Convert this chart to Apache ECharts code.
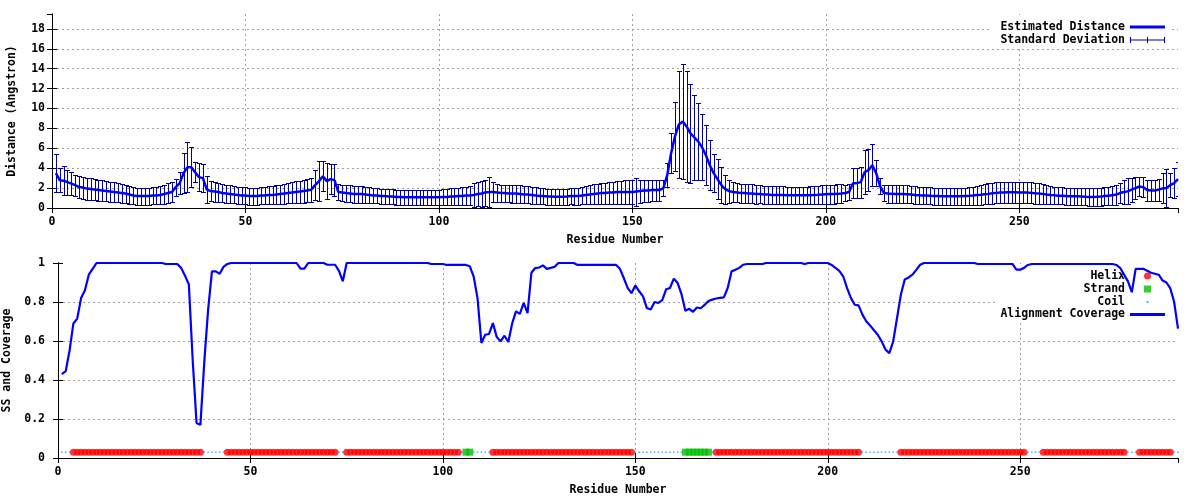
<!DOCTYPE html>
<html><head><meta charset="utf-8">
<script src="https://cdn.jsdelivr.net/npm/echarts@6/dist/echarts.min.js"></script>
<style>html,body{margin:0;padding:0;background:#fff}#c{width:1200px;height:500px}</style>
</head><body><div id="c"></div>
<script>
// ---------- DATA ----------
// Estimated distance (Angstrom) per residue 1..291
const dist = [
3.5,2.8,2.75,2.6,2.45,2.3,2.1,2.05,1.95,1.9,
1.85,1.8,1.75,1.7,1.65,1.6,1.55,1.5,1.45,1.35,
1.25,1.2,1.2,1.2,1.2,1.25,1.25,1.3,1.4,1.5,
1.6,2.1,2.5,3.5,4.1,4.1,3.6,3.1,3.0,1.85,
1.7,1.65,1.6,1.5,1.45,1.4,1.35,1.3,1.25,1.25,
1.2,1.2,1.2,1.25,1.25,1.3,1.3,1.35,1.4,1.45,
1.5,1.55,1.6,1.65,1.7,1.75,1.85,2.3,2.7,3.2,
2.7,2.9,2.8,1.6,1.55,1.5,1.45,1.4,1.4,1.4,
1.35,1.3,1.25,1.25,1.2,1.2,1.15,1.15,1.1,1.1,
1.07,1.07,1.07,1.07,1.07,1.07,1.07,1.07,1.07,1.07,
1.1,1.1,1.15,1.15,1.2,1.2,1.25,1.25,1.3,1.4,
1.45,1.55,1.6,1.6,1.55,1.5,1.5,1.45,1.45,1.45,
1.4,1.35,1.35,1.3,1.25,1.2,1.2,1.15,1.15,1.12,
1.12,1.12,1.15,1.2,1.2,1.2,1.25,1.3,1.35,1.4,
1.45,1.5,1.5,1.55,1.55,1.6,1.6,1.6,1.6,1.6,
1.65,1.7,1.75,1.75,1.8,1.8,1.8,2.0,3.3,5.5,
7.2,8.4,8.7,8.2,7.5,7.1,6.7,6.1,5.3,4.3,
3.5,2.9,2.3,1.9,1.7,1.6,1.55,1.5,1.5,1.45,
1.45,1.4,1.4,1.35,1.35,1.3,1.3,1.3,1.3,1.28,
1.28,1.27,1.27,1.27,1.27,1.28,1.3,1.32,1.35,1.38,
1.4,1.4,1.42,1.45,1.5,1.6,2.5,2.5,2.6,3.6,
3.8,4.3,3.5,2.2,1.5,1.45,1.42,1.4,1.4,1.4,
1.38,1.35,1.3,1.28,1.25,1.25,1.22,1.2,1.2,1.18,
1.17,1.17,1.17,1.17,1.17,1.2,1.22,1.25,1.3,1.33,
1.38,1.42,1.48,1.52,1.55,1.57,1.58,1.58,1.58,1.57,
1.55,1.55,1.52,1.48,1.45,1.42,1.35,1.3,1.27,1.24,
1.22,1.2,1.18,1.17,1.17,1.15,1.12,1.1,1.1,1.12,
1.15,1.2,1.24,1.27,1.35,1.5,1.6,1.67,1.84,2.0,
2.17,2.1,1.8,1.75,1.75,1.85,1.97,2.0,2.3,2.5,2.9
];
// Standard deviation per residue
const stdev = [
1.9,1.2,1.45,1.25,1.15,1.05,1.1,1.1,1.1,1.1,
1.05,1.05,1.05,1.0,1.0,1.0,0.95,0.95,0.9,0.9,
0.85,0.85,0.85,0.85,0.85,0.85,0.85,0.9,0.95,1.0,
1.0,0.85,1.1,2.0,2.5,2.0,1.0,1.4,1.4,1.35,
1.0,1.0,0.95,0.9,0.9,0.9,0.85,0.85,0.85,0.85,
0.85,0.85,0.85,0.85,0.85,0.9,0.9,0.95,0.95,1.0,
1.0,1.05,1.1,1.1,1.15,1.15,1.2,1.5,2.0,1.5,
1.8,1.5,1.6,0.8,0.8,0.85,0.85,0.85,0.85,0.85,
0.8,0.8,0.75,0.75,0.75,0.75,0.75,0.75,0.75,0.75,
0.75,0.75,0.75,0.75,0.75,0.75,0.75,0.75,0.75,0.75,
0.8,0.8,0.85,0.85,0.85,0.9,0.9,0.95,1.2,1.2,
1.3,1.3,1.5,1.0,0.9,0.85,0.85,0.85,0.9,0.9,
0.9,0.85,0.85,0.85,0.85,0.8,0.8,0.8,0.8,0.8,
0.8,0.8,0.8,0.8,0.85,0.85,0.85,0.9,0.95,1.0,
1.0,1.05,1.05,1.1,1.1,1.15,1.15,1.2,1.2,1.2,
1.4,1.15,1.1,1.1,1.05,1.05,1.05,0.8,1.2,2.0,
3.5,5.4,5.8,5.6,5.0,4.3,3.9,3.3,3.0,2.5,
1.9,2.0,1.8,1.45,1.15,1.0,0.95,0.95,0.95,0.95,
0.95,0.95,0.9,0.9,0.9,0.9,0.88,0.88,0.88,0.88,
0.88,0.88,0.88,0.88,0.88,0.9,0.9,0.92,0.95,0.95,
0.95,0.95,0.95,0.95,0.8,0.8,1.5,1.5,1.55,2.2,
2.1,2.1,1.3,0.8,0.8,0.9,0.9,0.9,0.9,0.9,
0.9,0.88,0.88,0.85,0.85,0.85,0.85,0.85,0.85,0.85,
0.85,0.85,0.85,0.85,0.85,0.85,0.9,0.9,0.95,1.0,
1.0,1.05,1.05,1.05,1.05,1.05,1.05,1.05,1.05,1.05,
1.05,1.05,1.05,1.05,1.05,1.0,0.95,0.9,0.88,0.85,
0.85,0.85,0.85,0.85,0.85,0.85,0.85,0.88,0.9,0.9,
0.9,0.9,0.9,0.95,1.0,1.0,1.2,1.3,1.2,1.1,
0.95,1.0,1.05,1.05,1.05,1.1,1.5,1.9,1.2,1.5,1.7
];
// Alignment coverage per residue
const coverage = [
0.43,0.445,0.55,0.69,0.715,0.82,0.86,0.94,0.97,1,
1,1,1,1,1,1,1,1,1,1,
1,1,1,1,1,1,1,0.995,0.995,0.995,
0.995,0.975,0.935,0.89,0.5,0.18,0.17,0.49,0.76,0.957,
0.957,0.945,0.98,0.995,1,1,1,1,1,1,
1,1,1,1,1,1,1,1,1,1,
1,1,0.971,0.971,1,1,1,1,1,0.991,
0.991,0.991,0.96,0.906,1,1,1,1,1,1,
1,1,1,1,1,1,1,1,1,1,
1,1,1,1,1,1,0.995,0.995,0.995,0.995,
0.99,0.99,0.99,0.99,0.99,0.99,0.983,0.93,0.82,0.59,
0.632,0.636,0.692,0.62,0.598,0.627,0.595,0.69,0.752,0.739,
0.795,0.743,0.95,0.974,0.977,0.988,0.97,0.975,0.98,1,
1,1,1,1,0.99,0.99,0.99,0.99,0.99,0.99,
0.99,0.99,0.99,0.99,0.99,0.97,0.923,0.872,0.845,0.885,
0.855,0.829,0.769,0.761,0.8,0.795,0.81,0.865,0.872,0.92,
0.897,0.84,0.755,0.765,0.75,0.772,0.768,0.785,0.805,0.812,
0.818,0.821,0.824,0.872,0.957,0.965,0.975,0.991,0.995,0.995,
0.995,0.995,0.995,1,1,1,1,1,1,1,
1,1,1,0.995,1,1,1,1,1,1,
0.99,0.975,0.96,0.932,0.872,0.821,0.786,0.783,0.735,0.701,
0.68,0.655,0.632,0.598,0.556,0.538,0.598,0.718,0.838,0.915,
0.926,0.94,0.965,0.991,1,1,1,1,1,1,
1,1,1,1,1,1,1,1,0.995,0.995,
0.995,0.995,0.995,0.995,0.995,0.995,0.995,0.995,0.966,0.966,
0.975,0.99,0.995,0.995,0.995,0.995,0.995,0.995,0.995,0.995,
0.995,0.995,0.995,0.995,0.995,0.995,0.995,0.995,0.995,0.995,
0.995,0.995,0.995,0.995,0.99,0.974,0.94,0.906,0.85,0.97,
0.97,0.97,0.96,0.95,0.945,0.94,0.91,0.9,0.87,0.8,0.663
];
// Secondary structure segments: [type, firstResidue, lastResidue]  H=helix E=strand C=coil
const ssSegments = [
['C',1,3],['H',4,37],['C',38,43],['H',44,72],['C',73,74],['H',75,104],['C',105,105],
['E',106,107],['C',108,112],['H',113,149],['C',150,162],['E',163,169],['C',170,170],
['H',171,208],['C',209,218],['H',219,251],['C',252,255],['H',256,277],['C',278,280],
['H',281,289],['C',290,291]
];
const ssLevel = 0.03;   // height at which SS marks are drawn

// ---------- BUILD ----------
const residues = dist.map((_, i) => i + 1);
const distData = residues.map((r, i) => [r, dist[i]]);
const errData = residues.map((r, i) => [r, dist[i], stdev[i]]);
const covData = residues.map((r, i) => [r, coverage[i]]);
const helixPts = [], strandPts = [], coilPts = [];
ssSegments.forEach(([t, a, b]) => {
  for (let r = a; r <= b; r++) {
    (t === 'H' ? helixPts : t === 'E' ? strandPts : coilPts).push([r, ssLevel]);
  }
});

const FONT = 'DejaVu Sans Mono';
const txt = {fontFamily: FONT, fontWeight: 'bold', fontSize: 11.5, color: '#000'};
const errColor = '#000099';
const gridDash = {color: '#a0a0a0', type: [2, 3], width: 1};

function xAx(gridIndex, name) {
  return {type: 'value', gridIndex, min: 0, max: 291, interval: 50,
    name, nameLocation: 'middle', nameGap: 26, nameTextStyle: txt,
    axisLine: {show: true, lineStyle: {color: '#000', width: 1}},
    axisTick: {show: true, inside: true, length: 5, lineStyle: {color: '#000'}},
    axisLabel: Object.assign({margin: 8, showMaxLabel: false}, txt),
    splitLine: {show: true, lineStyle: gridDash, showMinLine: false, showMaxLine: false}};
}
function xMirror(gridIndex) {
  return {type: 'value', gridIndex, position: 'top', min: 0, max: 291, interval: 50,
    axisLine: {show: true, lineStyle: {color: '#000', width: 1}},
    axisTick: {show: true, inside: true, length: 5, lineStyle: {color: '#000'}},
    axisLabel: {show: false}, splitLine: {show: false}};
}
function yAx(gridIndex, name, max, interval, margin, gap) {
  return {type: 'value', gridIndex, min: 0, max, interval,
    name, nameLocation: 'middle', nameGap: gap, nameTextStyle: txt,
    axisLine: {show: true, lineStyle: {color: '#000', width: 1}},
    axisTick: {show: true, inside: true, length: 5, lineStyle: {color: '#000'}},
    axisLabel: Object.assign({margin, showMaxLabel: max === 1}, txt),
    splitLine: {show: true, lineStyle: gridDash, showMinLine: false, showMaxLine: false}};
}
function yMirror(gridIndex, max, interval) {
  return {type: 'value', gridIndex, position: 'right', min: 0, max, interval,
    axisLine: {show: true, lineStyle: {color: '#000', width: 1}},
    axisTick: {show: true, inside: true, length: 5, lineStyle: {color: '#000'}},
    axisLabel: {show: false}, splitLine: {show: false}};
}

function renderErr(params, api) {
  const x = api.value(0), y = api.value(1), s = api.value(2);
  const top = api.coord([x, y + s]);
  const bot = api.coord([x, y - s]);
  const cx = Math.round(top[0]) + 0.5;
  const ty = Math.round(top[1]) + 0.5, by = Math.round(bot[1]) + 0.5;
  const hw = 2.5;
  const style = {stroke: errColor, lineWidth: 1, fill: null};
  return {type: 'group', children: [
    {type: 'line', shape: {x1: cx, y1: ty, x2: cx, y2: by}, style},
    {type: 'line', shape: {x1: cx - hw, y1: ty, x2: cx + hw, y2: ty}, style},
    {type: 'line', shape: {x1: cx - hw, y1: by, x2: cx + hw, y2: by}, style}
  ]};
}

// one legend per entry so every sample sits in the same column (icon right of text)
function leg(name, top, itemHeight, iconWidth, icon, extra) {
  const d = {name};
  if (icon) d.icon = icon;
  if (extra) Object.assign(d, extra);
  return {data: [d], right: 35 + (35 - iconWidth) / 2, top, orient: 'vertical', align: 'right', padding: 0,
    itemWidth: 35, itemHeight, textStyle: txt, selectedMode: false};
}

const chart = echarts.init(document.getElementById('c'), null, {renderer: 'canvas'});
chart.setOption({
  animation: false,
  backgroundColor: '#fff',
  grid: [
    {left: 52, top: 14, width: 1126, height: 194, show: false, containLabel: false, outerBoundsMode: 'none'},
    {left: 58, top: 263, width: 1120, height: 195, show: false, containLabel: false, outerBoundsMode: 'none'}
  ],
  xAxis: [xAx(0, 'Residue Number'), xMirror(0), xAx(1, 'Residue Number'), xMirror(1)],
  yAxis: [yAx(0, 'Distance (Angstron)', 19.5, 2, 7, 34), yMirror(0, 19.5, 2),
          yAx(1, 'SS and Coverage', 1, 0.2, 13, 40), yMirror(1, 1, 0.2)],
  graphic: {elements: [
    {type: 'rect', z: 1, silent: true, shape: {x: 992, y: 15, width: 180, height: 31}, style: {fill: '#fff'}},
    {type: 'rect', z: 1, silent: true, shape: {x: 996, y: 264, width: 176, height: 56}, style: {fill: '#fff'}}
  ]},
  legend: [
    leg('Estimated Distance', 21, 3, 35, 'rect'),
    leg('Standard Deviation', 34, 6, 35, 'path://M0,0H1V6H0Z M0,2.5H35V3.5H0Z M17,0H18V6H17Z M34,0H35V6H34Z', {itemStyle: {color: errColor}}),
    leg('Helix', 270, 7, 7, 'circle'),
    leg('Strand', 283, 7, 7, 'path://M0,0H7V7H0Z'),
    leg('Coil', 296, 2, 2, 'path://M0,0H2V2H0Z'),
    leg('Alignment Coverage', 308.5, 3, 35, 'rect')
  ],
  series: [
    {name: 'Standard Deviation', type: 'custom', xAxisIndex: 0, yAxisIndex: 0, z: 2,
      renderItem: renderErr, data: errData, encode: {x: 0, y: [1, 2]},
      itemStyle: {color: errColor}, clip: true},
    {name: 'Estimated Distance', type: 'line', xAxisIndex: 0, yAxisIndex: 0, z: 3,
      data: distData, showSymbol: false, symbol: 'none',
      lineStyle: {color: '#0000ff', width: 2.5}, itemStyle: {color: '#0000ff'}},
    {name: 'Helix', type: 'scatter', xAxisIndex: 2, yAxisIndex: 2, z: 2,
      data: helixPts, symbol: 'circle', symbolSize: 7, itemStyle: {color: '#ff0000'}},
    {name: 'Strand', type: 'scatter', xAxisIndex: 2, yAxisIndex: 2, z: 2,
      data: strandPts, symbol: 'rect', symbolSize: [7, 7], itemStyle: {color: '#00c000'}},
    {name: 'Coil', type: 'scatter', xAxisIndex: 2, yAxisIndex: 2, z: 2,
      data: coilPts, symbol: 'rect', symbolSize: [1.5, 1.5], itemStyle: {color: '#1e90ff'}},
    {name: 'Alignment Coverage', type: 'line', xAxisIndex: 2, yAxisIndex: 2, z: 5,
      data: covData, showSymbol: false, symbol: 'none',
      lineStyle: {color: '#0000ff', width: 2.2}, itemStyle: {color: '#0000ff'}}
  ]
});
</script>
</body></html>
